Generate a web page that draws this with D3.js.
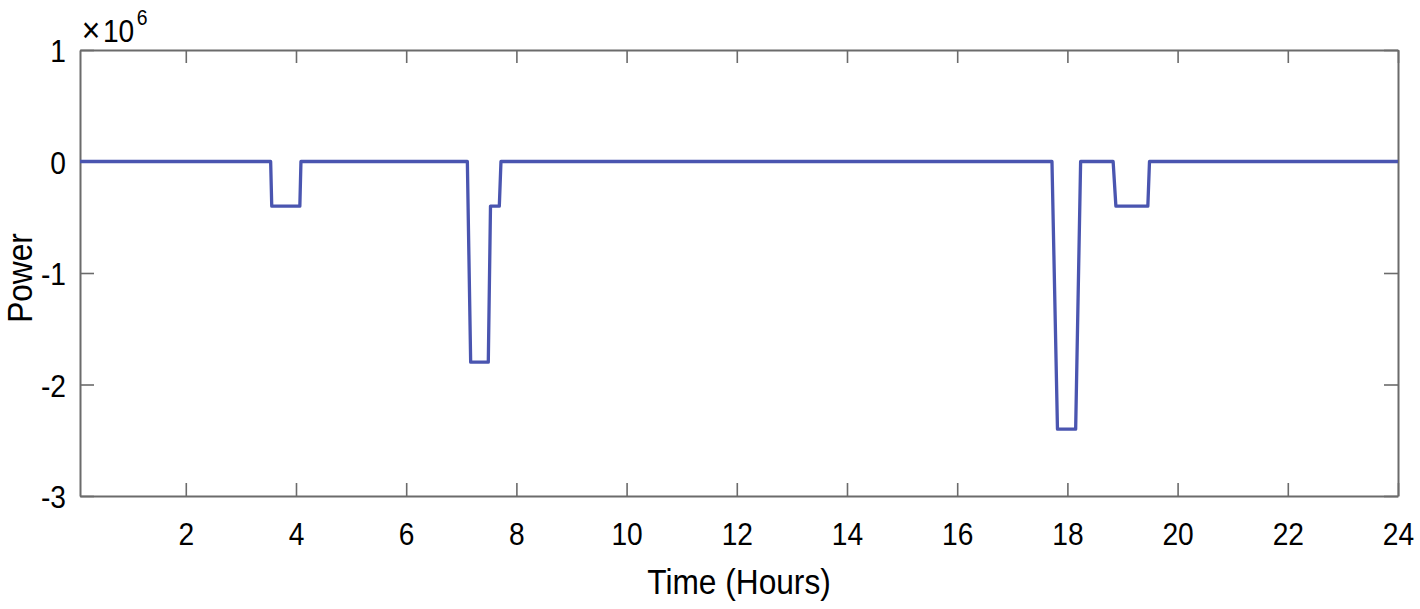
<!DOCTYPE html>
<html>
<head>
<meta charset="utf-8">
<script src="https://cdn.jsdelivr.net/npm/d3@7"></script>
<style>
  body { margin: 0; background: #fff; }
  text { font-family: "Liberation Sans", Arial, sans-serif; fill: #000; }
</style>
</head>
<body>
<div id="chart"></div>
<script>
// time in hours, power in W
const hours = [0.08, 3.54, 3.56, 4.07, 4.09, 7.11, 7.17, 7.49, 7.53, 7.69, 7.72,
               17.72, 17.82, 18.15, 18.24, 18.83, 18.88, 19.46, 19.49, 24];
const power = [0, 0, -0.4e6, -0.4e6, 0, 0, -1.8e6, -1.8e6, -0.4e6, -0.4e6, 0,
               0, -2.4e6, -2.4e6, 0, 0, -0.4e6, -0.4e6, 0, 0];
const xTicks = [2, 4, 6, 8, 10, 12, 14, 16, 18, 20, 22, 24];
const yTicks = [-3e6, -2e6, -1e6, 0, 1e6];

const margin = { top: 50, right: 22, bottom: 113, left: 80 },
      width = 1420 - margin.left - margin.right,
      height = 609 - margin.top - margin.bottom;
const squeeze = "scale(0.88,1)";

const svg = d3.select("#chart")
  .append("svg")
    .attr("width", 1420)
    .attr("height", 609)
  .append("g")
    .attr("transform", `translate(${margin.left},${margin.top})`);

const x = d3.scaleLinear().domain([0.08, 24]).range([0, width]);
const y = d3.scaleLinear().domain([-3e6, 1e6]).range([height, 0]);

// bottom axis with labels
const xAxis = svg.append("g")
    .attr("transform", `translate(0,${height})`)
    .call(d3.axisBottom(x).tickValues(xTicks).tickSizeInner(-13).tickSizeOuter(0).tickPadding(26));
// top axis, ticks only
const xTop = svg.append("g")
    .call(d3.axisTop(x).tickValues(xTicks).tickSizeInner(-13).tickSizeOuter(0).tickFormat(""));

// left axis with labels
const yAxis = svg.append("g")
    .call(d3.axisLeft(y).tickValues(yTicks).tickSizeInner(-14).tickSizeOuter(0).tickPadding(14)
      .tickFormat(d => d / 1e6));
// right axis, ticks only
const yRight = svg.append("g")
    .attr("transform", `translate(${width},0)`)
    .call(d3.axisRight(y).tickValues(yTicks).tickSizeInner(-14).tickSizeOuter(0).tickFormat(""));

[xAxis, xTop, yAxis, yRight].forEach(g => {
  g.select(".domain").attr("stroke", "#6b6b6b").attr("stroke-width", 2);
  g.selectAll(".tick line").attr("stroke", "#6b6b6b").attr("stroke-width", 1.6);
  g.selectAll(".tick text")
    .attr("fill", "#000")
    .style("font-size", "32px")
    .style("font-family", "'Liberation Sans', Arial, sans-serif")
    .attr("transform", squeeze);
});
xAxis.selectAll(".tick text").attr("dy", "0.71em");
yAxis.selectAll(".tick text").attr("x", -14 / 0.88).attr("dy", "0.36em");

// the line
const line = d3.line()
    .x((d, i) => x(hours[i]))
    .y(d => y(d));
svg.append("path")
    .datum(power)
    .attr("fill", "none")
    .attr("stroke", "#4a55b0")
    .attr("stroke-width", 3.3)
    .attr("stroke-linejoin", "round")
    .attr("d", line);

// axis labels
svg.append("text")
    .attr("text-anchor", "middle")
    .attr("transform", `translate(${width / 2},${height + 98}) ${squeeze}`)
    .style("font-size", "36px")
    .text("Time (Hours)");

svg.append("text")
    .attr("text-anchor", "middle")
    .attr("transform", `translate(-48,${height / 2 + 5}) rotate(-90) ${squeeze}`)
    .style("font-size", "36px")
    .text("Power");

// exponent label
const expo = svg.append("text")
    .attr("x", 2)
    .attr("y", -8)
    .attr("transform", squeeze)
    .style("font-size", "32px");
expo.append("tspan").text("\u00d7").style("font-size", "36px");
expo.append("tspan").attr("dx", 3).text("10");
expo.append("tspan").attr("dx", 3).attr("dy", -17).style("font-size", "22px").text("6");
</script>
</body>
</html>
